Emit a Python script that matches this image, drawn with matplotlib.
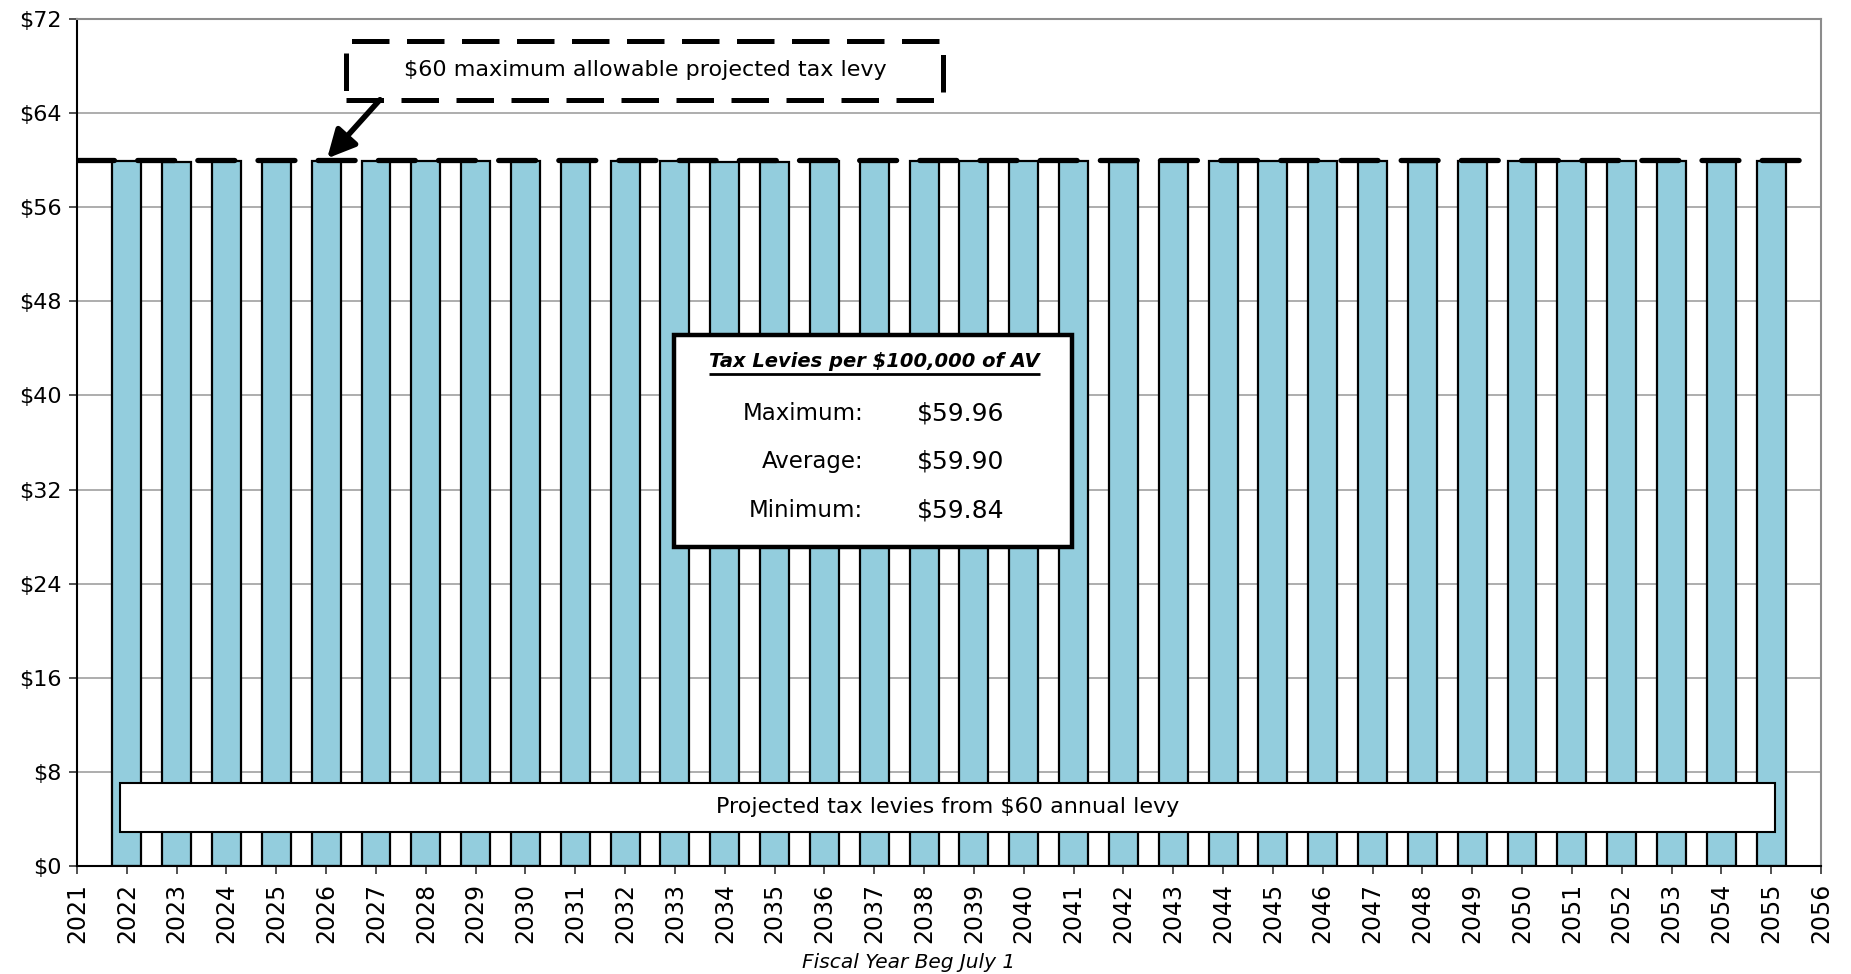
import matplotlib
matplotlib.use("Agg")
import matplotlib.pyplot as plt
from matplotlib.patches import Rectangle
import numpy as np

# Projected tax levy per $100,000 of assessed value, by fiscal year
years = list(range(2022, 2056))
levies = [59.93, 59.84, 59.92, 59.91, 59.93, 59.92, 59.90, 59.89, 59.90, 59.91,
          59.92, 59.90, 59.84, 59.88, 59.89, 59.90, 59.91, 59.90, 59.89, 59.90,
          59.88, 59.89, 59.90, 59.91, 59.90, 59.89, 59.88, 59.90, 59.91, 59.92,
          59.93, 59.94, 59.95, 59.96]
levy_cap = 60
y_ticks = list(range(0, 73, 8))
x_ticks = list(range(2021, 2057))

plt.rcParams['font.family'] = ['DejaVu Sans']

fig = plt.figure(figsize=(18.51, 9.74), dpi=100)
ax = fig.add_axes([77 / 1851, 1 - 866 / 974, (1821 - 77) / 1851, (866 - 19) / 974])

ax.set_xlim(2021, 2056)
ax.set_ylim(0, 72)

# gridlines
ax.set_yticks(y_ticks)
ax.set_yticklabels([f"${v}" for v in y_ticks], fontsize=16)
ax.yaxis.grid(True, color="#a0a0a0", lw=1.2, zorder=0)
ax.set_axisbelow(True)

ax.set_xticks(x_ticks)
ax.set_xticklabels([str(v) for v in x_ticks], rotation=90, fontsize=17)
ax.tick_params(axis="both", direction="out", length=6, width=1.2, color="#333333")
ax.tick_params(axis="x", pad=6)
ax.tick_params(axis="y", pad=5)

for side in ("left", "bottom"):
    ax.spines[side].set_color("black")
    ax.spines[side].set_linewidth(1.5)
for side in ("top", "right"):
    ax.spines[side].set_color("#8c8c8c")
    ax.spines[side].set_linewidth(1.5)

# bars
ax.bar(years, levies, width=0.58, color="#93CDDD", edgecolor="black",
       linewidth=1.6, zorder=2)

# maximum allowable levy line
ax.axhline(levy_cap, color="black", lw=3.8, dashes=(7.0, 4.4),
           dash_capstyle="round", zorder=3)

# callout for the cap line
cap_box = Rectangle((2026.40, 65.14), 11.97, 5.01, facecolor="white",
                    edgecolor="black", lw=3.6, linestyle=(0, (7.5, 3.5)),
                    zorder=5)
ax.add_patch(cap_box)
ax.text(2032.4, 67.65, f"${levy_cap} maximum allowable projected tax levy",
        ha="center", va="center", fontsize=16, zorder=6)
ax.annotate("", xy=(2026.02, 60.15), xytext=(2027.08, 65.14),
            arrowprops=dict(arrowstyle="-|>", lw=4.0, color="black",
                            mutation_scale=42, shrinkA=0, shrinkB=0),
            zorder=6)

# label box along the bottom
ax.add_patch(Rectangle((2021.86, 2.9), 33.22, 4.15, facecolor="white",
                       edgecolor="black", lw=1.5, zorder=4))
ax.text(2038.47, 4.98, f"Projected tax levies from ${levy_cap} annual levy",
        ha="center", va="center", fontsize=16, zorder=5)

# summary statistics box
ax.add_patch(Rectangle((2032.99, 27.13), 7.97, 18.02, facecolor="white",
                       edgecolor="black", lw=3.2, zorder=4))
title = ax.text(2037.0, 42.9, "Tax Levies per $100,000 of AV", ha="center",
                va="center", fontsize=14, fontweight="bold", style="italic",
                zorder=5)
stats = [("Maximum:", max(levies), 38.5),
         ("Average:", float(np.mean(levies)), 34.35),
         ("Minimum:", min(levies), 30.26)]
for label, val, yy in stats:
    ax.text(2036.78, yy, label, ha="right", va="center", fontsize=16.5, zorder=5)
    ax.text(2037.85, yy, f"${val:.2f}", ha="left", va="center", fontsize=18,
            zorder=5)

# underline the stats title
fig.canvas.draw()
bb = title.get_window_extent(fig.canvas.get_renderer())
inv = ax.transData.inverted()
(x0, y0), (x1, _) = inv.transform([(bb.x0, bb.y0), (bb.x1, bb.y0)])
ax.plot([x0, x1], [y0 - 0.25, y0 - 0.25], color="black", lw=2, zorder=5,
        solid_capstyle="butt")

fig.text(909 / 1851, 1 - 962 / 974, "Fiscal Year Beg July 1", ha="center",
         va="center", fontsize=14.5, style="italic")

fig.savefig("out.png", dpi=100)
